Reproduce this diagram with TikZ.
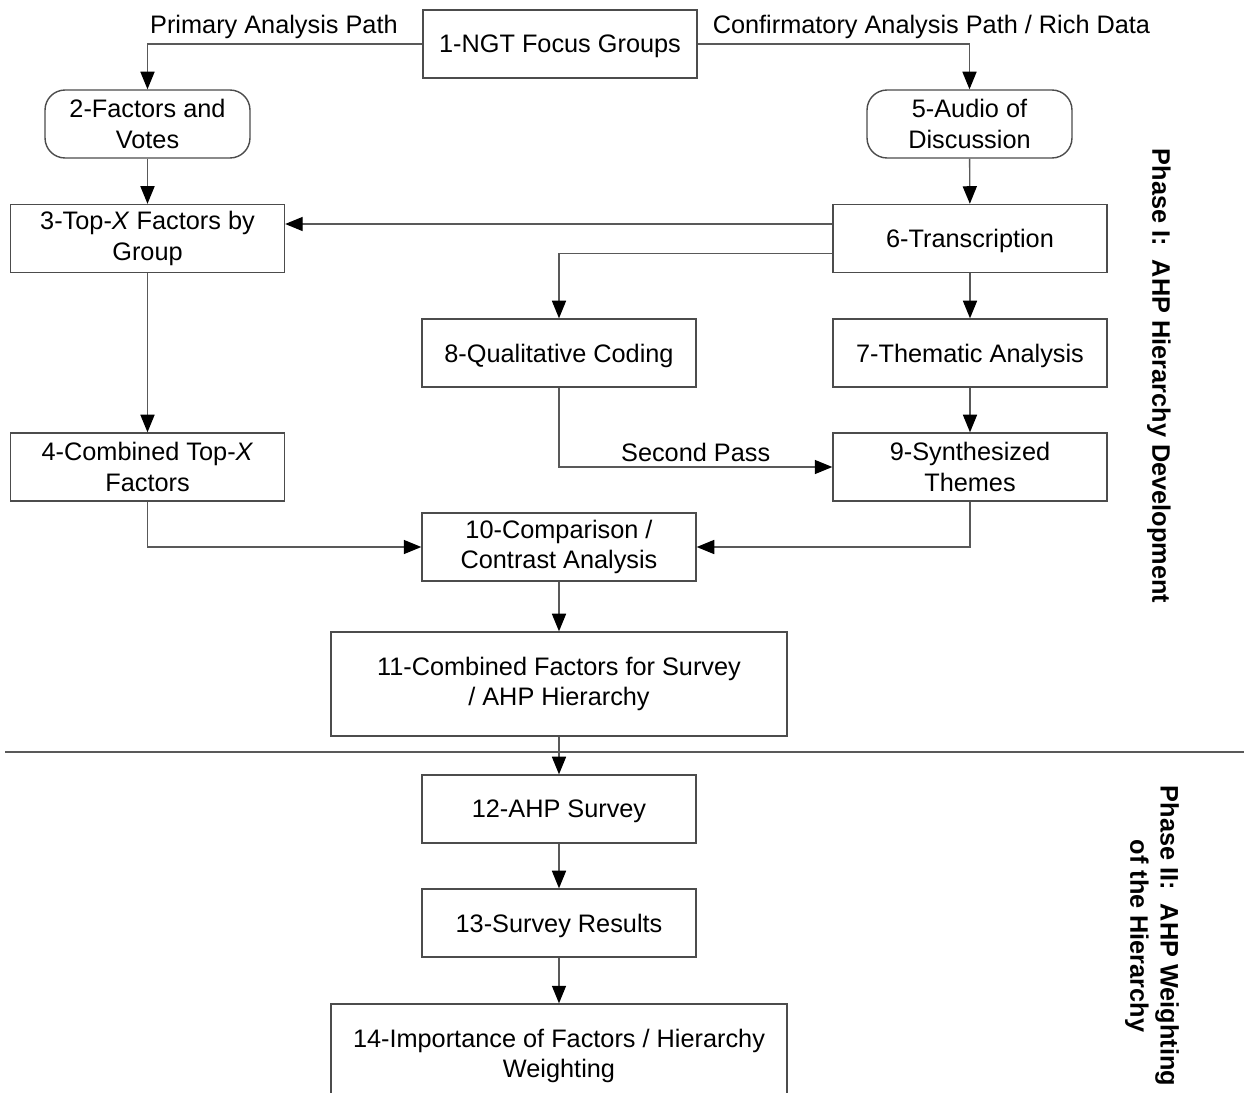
\documentclass[tikz,border=0pt]{standalone}
\usepackage{fontspec}
\setmainfont{Liberation Sans}
\usetikzlibrary{arrows.meta,calc}
\begin{document}
\begin{tikzpicture}[x=0.02cm,y=-0.02cm,
  every node/.style={font=\fontsize{14.4}{17.2}\selectfont, text=black},
  box/.style={draw=black!70, line width=0.8pt, fill=white, align=center,
    minimum width=5.48cm, minimum height=1.36cm, inner sep=2pt},
  one/.style={text depth=0pt},
  widebox/.style={box, minimum width=9.12cm, minimum height=2.08cm},
  roundbox/.style={box, rounded corners=0.4cm, minimum width=4.1cm},
  conn/.style={draw=black!65, line width=0.8pt, -{Triangle[length=10pt,width=8pt,color=black]}},
  lbl/.style={above=-1pt},
  phase/.style={font=\bfseries\fontsize{14.4}{17.2}\selectfont, rotate=-90, align=center}
]
\useasboundingbox (0,0) rectangle (1244,1092);
\clip (0,0) rectangle (1244,1092);

\node[box,one] (n1) at (560,44) {1-NGT Focus Groups};
\node[roundbox] (n2) at (147.5,124) {2-Factors and\\Votes};
\node[roundbox] (n5) at (969.5,124) {5-Audio of\\Discussion};
\node[box] (n3) at (147.5,238.5) {3-Top-\textit{X} Factors by\\Group};
\node[box,one] (n6) at (970,238.5) {6-Transcription};
\node[box,one] (n8) at (559,353) {8-Qualitative Coding};
\node[box,one] (n7) at (970,353) {7-Thematic Analysis};
\node[box] (n4) at (147.5,467) {4-Combined Top-\textit{X}\\Factors};
\node[box] (n9) at (970,467) {9-Synthesized\\Themes};
\node[box] (n10) at (559,547) {10-Comparison /\\Contrast Analysis};
\node[widebox] (n11) at (559,684) {11-Combined Factors for Survey\\/ AHP Hierarchy};
\node[box,one] (n12) at (559,809) {12-AHP Survey};
\node[box,one] (n13) at (559,923) {13-Survey Results};
\node[widebox] (n14) at (559,1056) {14-Importance of Factors / Hierarchy\\Weighting};

\coordinate (divL) at (5,752);
\coordinate (divR) at (1244,752);
\draw[draw=black!65, line width=0.8pt] (divL) -- (divR);

\draw[conn] (n1.west) -| node[pos=0.27, lbl] {Primary Analysis Path} (n2.north);
\draw[conn] (n1.east) -| node[pos=0.43, lbl] {Confirmatory Analysis Path / Rich Data} (n5.north);
\draw[conn] (n2) -- (n3);
\draw[conn] (n5) -- (n6);
\draw[conn] ([yshift=0.29cm]n6.west) -- ([yshift=0.29cm]n6.west -| n3.east);
\draw[conn] ([yshift=-0.3cm]n6.west) -| (n8.north);
\draw[conn] (n6) -- (n7);
\draw[conn] (n3) -- (n4);
\draw[conn] (n7) -- (n9);
\draw[conn] (n8.south) |- node[pos=0.75, lbl] {Second Pass} (n9.west);
\draw[conn] (n4.south) |- (n10.west);
\draw[conn] (n9.south) |- (n10.east);
\draw[conn] (n10) -- (n11);
\draw[conn] (n11) -- (n12);
\draw[conn] (n12) -- (n13);
\draw[conn] (n13) -- (n14);

\node[phase] (ph1) at (1159,376) {Phase I:\ \ AHP Hierarchy Development};
\node[phase] (ph2) at (1152,936) {Phase II:\ \ AHP Weighting\\of the Hierarchy};
\end{tikzpicture}
\end{document}
